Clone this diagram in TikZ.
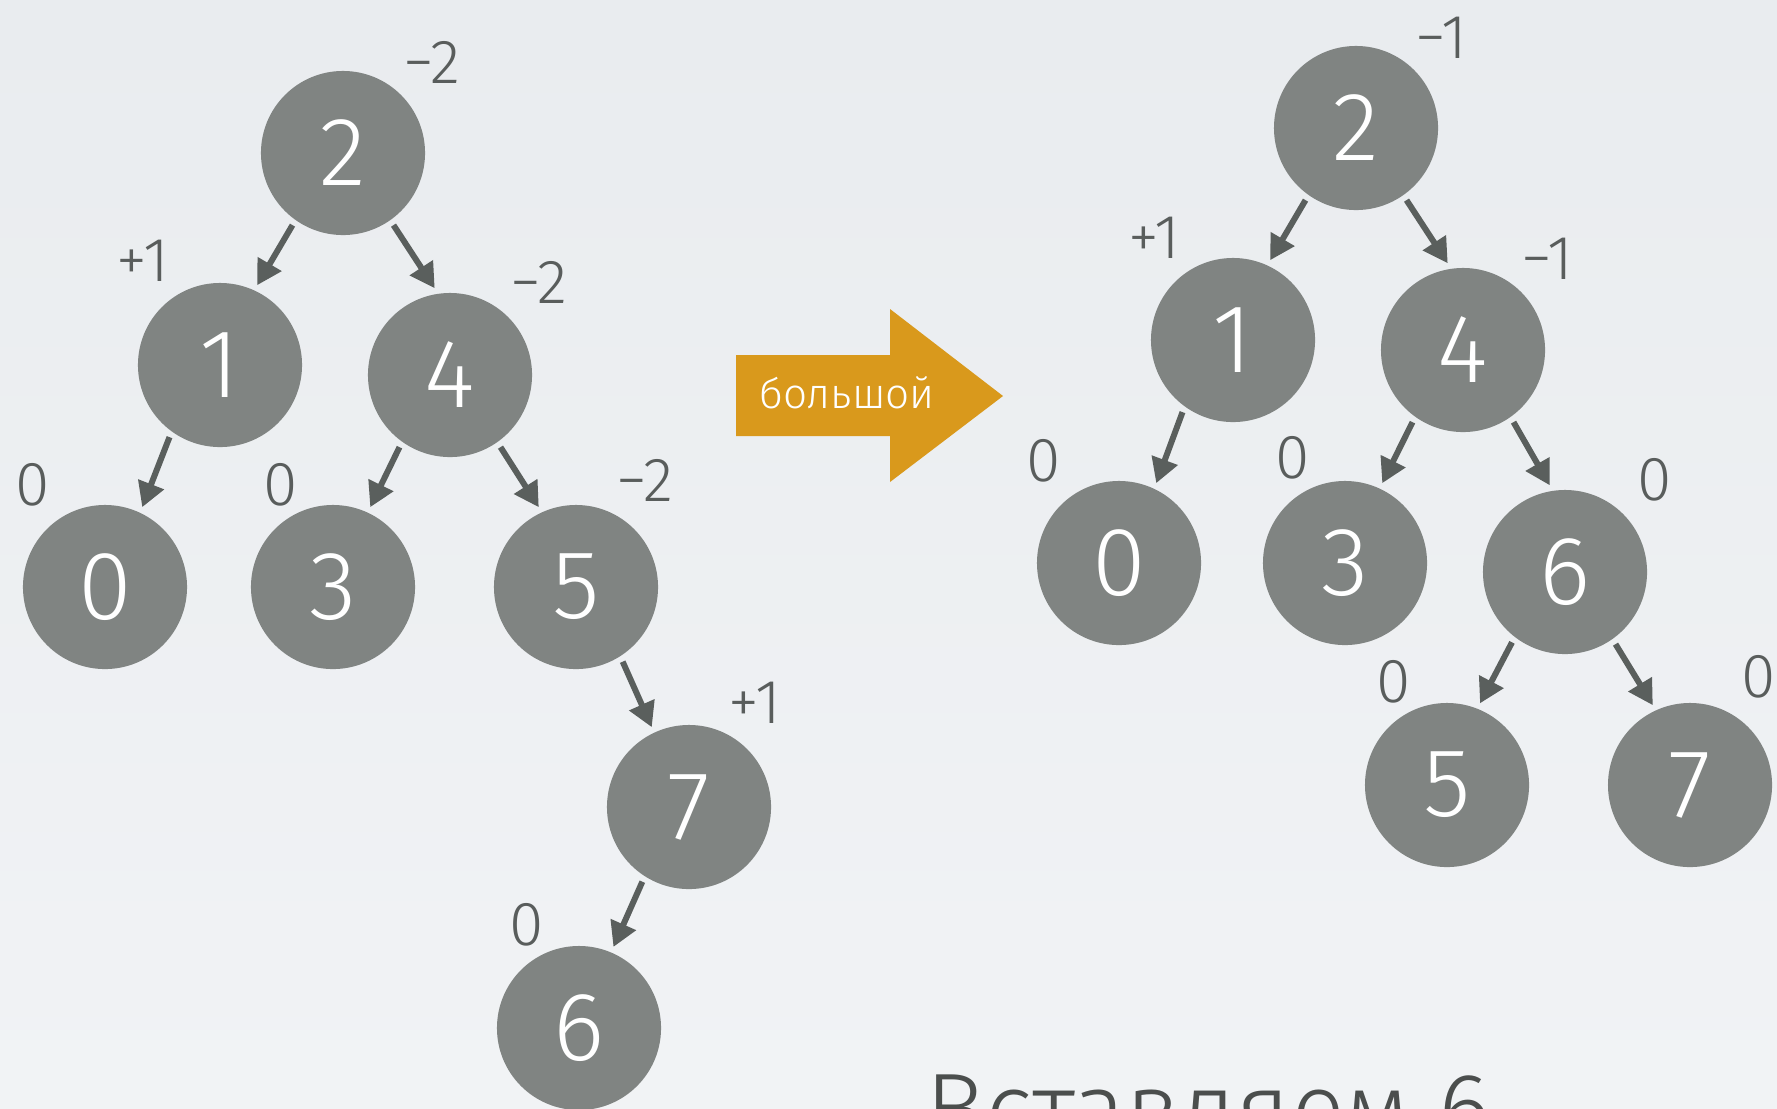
\documentclass[tikz,border=0pt]{standalone}
\usepackage{fontspec}
\setmainfont{Fira Sans Light}
\usetikzlibrary{arrows.meta}
\definecolor{bgtop}{HTML}{E9ECEF}
\definecolor{bgbottom}{HTML}{F1F3F5}
\definecolor{keygray}{HTML}{808482}
\definecolor{edgegray}{HTML}{5A5F5D}
\definecolor{balgray}{HTML}{595D5C}
\definecolor{rotorange}{HTML}{D9991C}
\definecolor{titlegray}{HTML}{4B4E4D}
\tikzset{>={Triangle[length=7pt,width=7.5pt]}}

\begin{document}
\begin{tikzpicture}[x=0.01cm, y=-0.01cm,
    key/.style={circle, fill=keygray, text=white, minimum size=1.64cm, inner sep=0pt, outer sep=0.06cm, font=\fontsize{27.7}{30}\selectfont},
    bal/.style={text=balgray, inner sep=0pt, font=\fontsize{17.7}{20}\selectfont},
    edge/.style={->, draw=edgegray, line width=1.7pt}]
  % page and background
  \useasboundingbox (0,0) rectangle (1777,1108);
  \clip (0,0) rectangle (1777,1108);
  \shade[top color=bgtop, bottom color=bgbottom] (0,0) rectangle (1777,1108);

  % tree before the rotation
  \node[key] (l2) at (343,153) {2};
  \node[key] (l1) at (220,365) {1};
  \node[key] (l4) at (450,375) {4};
  \node[key] (l0) at (105,587) {0};
  \node[key] (l3) at (333,587) {3};
  \node[key] (l5) at (576,587) {5};
  \node[key] (l7) at (689,807) {7};
  \node[key] (l6) at (579,1028) {6};
  \draw[edge] (l2.-125) -- (l1.65);
  \draw[edge] (l2.-55) -- (l4.100);
  \draw[edge] (l1.-125) -- (l0.65);
  \draw[edge] (l4.-125) -- (l3.65);
  \draw[edge] (l4.-55) -- (l5.115);
  \draw[edge] (l5.-58) -- (l7.115);
  \draw[edge] (l7.-122) -- (l6.67);
  % balance factors
  \node[bal] (lb2) at (432,62) {−2};
  \node[bal] (lb1) at (143,261) {+1};
  \node[bal] (lb4) at (539,282) {−2};
  \node[bal] (lb0) at (33,485) {0};
  \node[bal] (lb3) at (281,485) {0};
  \node[bal] (lb5) at (645,480) {−2};
  \node[bal] (lb7) at (755,703) {+1};
  \node[bal] (lb6) at (527,925) {0};

  % big rotation arrow
  \fill[rotorange] (736,355) -- (890,355) -- (890,309) -- (1003,396)
    -- (890,482) -- (890,436) -- (736,436) -- cycle;
  \node[text=white, inner sep=0pt, anchor=base, font=\fontsize{12}{14}\selectfont] (rot) at (847,408) {большой};

  % tree after the rotation
  \node[key] (r2) at (1356,128) {2};
  \node[key] (r1) at (1233,340) {1};
  \node[key] (r4) at (1463,350) {4};
  \node[key] (r0) at (1119,563) {0};
  \node[key] (r3) at (1345,563) {3};
  \node[key] (r6) at (1565,572) {6};
  \node[key] (r5) at (1447,785) {5};
  \node[key] (r7) at (1690,785) {7};
  \draw[edge] (r2.-125) -- (r1.65);
  \draw[edge] (r2.-55) -- (r4.100);
  \draw[edge] (r1.-125) -- (r0.65);
  \draw[edge] (r4.-125) -- (r3.65);
  \draw[edge] (r4.-55) -- (r6.100);
  \draw[edge] (r6.-127) -- (r5.68);
  \draw[edge] (r6.-55) -- (r7.115);
  % balance factors
  \node[bal] (rb2) at (1441,38) {−1};
  \node[bal] (rb1) at (1154,238) {+1};
  \node[bal] (rb4) at (1547,259) {−1};
  \node[bal] (rb0) at (1044,461) {0};
  \node[bal] (rb3) at (1293,458) {0};
  \node[bal] (rb6) at (1655,480) {0};
  \node[bal] (rb5) at (1394,682) {0};
  \node[bal] (rb7) at (1759,677) {0};

  % slide title, cut by the page edge
  \node[anchor=base west, inner sep=0pt, text=titlegray, font=\fontsize{28.5}{30}\selectfont] (title) at (925,1143) {Вставляем 6};
\end{tikzpicture}
\end{document}
